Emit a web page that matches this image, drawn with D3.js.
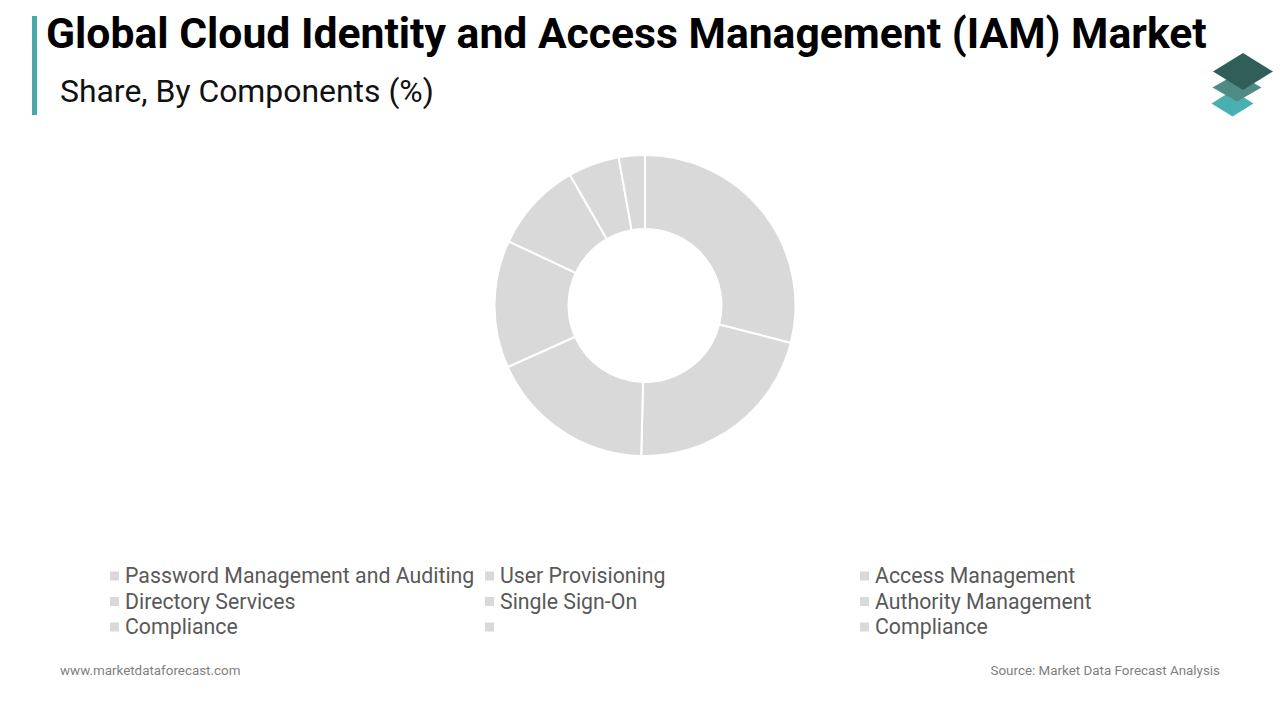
<!DOCTYPE html>
<html>
<head>
<meta charset="utf-8">
<script src="https://cdn.jsdelivr.net/npm/d3@7"></script>
<style>
  html, body { margin: 0; padding: 0; background: #ffffff; }
  svg { display: block; font-family: Roboto, "Noto Sans", sans-serif; }
</style>
</head>
<body>
<svg id="chart" width="1280" height="720"></svg>
<script>
// ---- Data ----
const titleText = "Global Cloud Identity and Access Management (IAM) Market";
const subtitleText = "Share, By Components (%)";
const sliceNames = ["Password Management and Auditing", "User Provisioning", "Access Management",
                    "Directory Services", "Single Sign-On", "Authority Management", "Compliance"];
const sliceValues = [29.0, 21.4, 17.9, 13.7, 9.7, 5.5, 2.8];
const legendLabels = ["Password Management and Auditing", "User Provisioning", "Access Management",
                      "Directory Services", "Single Sign-On", "Authority Management",
                      "Compliance", "", "Compliance"];
const footerLeft = "www.marketdataforecast.com";
const footerRight = "Source: Market Data Forecast Analysis";

// ---- Drawing ----
const svg = d3.select("#chart");

function fit(t, target) {
  const w = t.node().getComputedTextLength();
  const fs = +t.attr("font-size");
  if (w > 0) t.attr("font-size", fs * target / w);
}

// header accent bar
svg.append("rect").attr("x", 32).attr("y", 16).attr("width", 5).attr("height", 99).attr("fill", "#4aa9a8");

const title = svg.append("text")
  .attr("x", 46).attr("y", 48)
  .attr("font-weight", 700).attr("font-size", 38).attr("fill", "#000")
  .text(titleText);
fit(title, 1161);

const sub = svg.append("text")
  .attr("x", 60).attr("y", 102)
  .attr("font-size", 28).attr("fill", "#111")
  .text(subtitleText);
fit(sub, 374);

// logo (three stacked diamonds)
const logo = svg.append("g");
const diamond = (x, y, hw, hh) => `M${x - hw},${y} L${x},${y - hh} L${x + hw},${y} L${x},${y + hh} Z`;
logo.append("path").attr("d", diamond(1232.5, 103.5, 21, 13)).attr("fill", "#4aafb0");
logo.append("path").attr("d", diamond(1237, 87.5, 24.5, 14)).attr("fill", "#4f8a85");
logo.append("path").attr("d", diamond(1243, 71.5, 30, 18.5)).attr("fill", "#2f5f58");

// donut
const cx = 645, cy = 305.5, rOuter = 150.5, rInner = 76.5;
const pie = d3.pie().sort(null).value(d => d)(sliceValues);
const arc = d3.arc().innerRadius(rInner).outerRadius(rOuter);
svg.append("g").attr("transform", `translate(${cx},${cy})`)
  .selectAll("path").data(pie).join("path")
  .attr("d", arc)
  .attr("fill", "#d9d9d9")
  .attr("stroke", "#ffffff")
  .attr("stroke-width", 2);

// legend
const colX = [110, 485, 860];
const rowY = [576, 601.5, 627];
const lg = svg.append("g");
legendLabels.forEach((lab, i) => {
  const c = i % 3, r = Math.floor(i / 3);
  const g = lg.append("g").attr("transform", `translate(${colX[c]},${rowY[r]})`);
  g.append("rect").attr("x", 0).attr("y", -4.5).attr("width", 9).attr("height", 9).attr("fill", "#d9d9d9");
  g.append("text").attr("x", 15).attr("y", 0).attr("dy", "0.35em")
    .attr("font-size", 21.3).attr("fill", "#595959").text(lab);
});

// footer
svg.append("text").attr("x", 60).attr("y", 675).attr("font-size", 13.4).attr("fill", "#7f7f7f").text(footerLeft);
svg.append("text").attr("x", 1220).attr("y", 675).attr("text-anchor", "end")
  .attr("font-size", 13.4).attr("fill", "#7f7f7f").text(footerRight);
</script>
</body>
</html>
